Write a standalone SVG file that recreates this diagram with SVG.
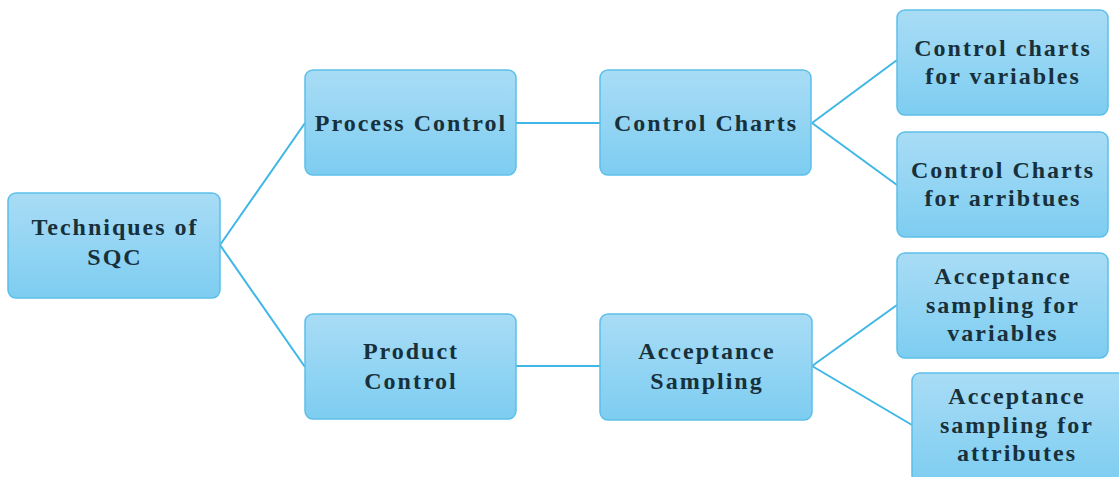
<svg xmlns="http://www.w3.org/2000/svg" width="1119" height="477" viewBox="0 0 1119 477">
<defs>
<linearGradient id="g" x1="0" y1="0" x2="0" y2="1">
<stop offset="0" stop-color="#a9dcf5"/>
<stop offset="1" stop-color="#7dcdf1"/>
</linearGradient>
<style>
.box{fill:url(#g);stroke:#5cbfe9;stroke-width:1.5}
.t{font-family:"Liberation Serif",serif;font-weight:bold;font-size:24px;fill:#17303b;text-anchor:middle;letter-spacing:2px}
.c{fill:none;stroke:#3fb7e6;stroke-width:2}
</style>
</defs>
<rect width="1119" height="477" fill="#ffffff"/>
<g id="connectors">
<path class="c" d="M220 245 L305 123 M220 245 L305 367"/>
<path class="c" d="M516 123 L600 123 M516 366 L600 366"/>
<path class="c" d="M812 123 L897 60 M812 123 L897 185"/>
<path class="c" d="M812 366 L897 305 M812 366 L912 425"/>
</g>
<g id="n-sqc"><rect class="box" x="8" y="193" width="212" height="105" rx="8"/><text class="t" x="115" y="235">Techniques of</text><text class="t" x="115" y="265">SQC</text></g>
<g id="n-process"><rect class="box" x="305" y="70" width="211" height="105" rx="8"/><text class="t" x="411" y="131">Process Control</text></g>
<g id="n-product"><rect class="box" x="305" y="314" width="211" height="105" rx="8"/><text class="t" x="411" y="359">Product</text><text class="t" x="411" y="389">Control</text></g>
<g id="n-charts"><rect class="box" x="600" y="70" width="211" height="105" rx="8"/><text class="t" x="706" y="131">Control Charts</text></g>
<g id="n-acceptance"><rect class="box" x="600" y="314" width="212" height="106" rx="8"/><text class="t" x="707" y="359">Acceptance</text><text class="t" x="707" y="389">Sampling</text></g>
<g id="n-ccvar"><rect class="box" x="897" y="10" width="211" height="105" rx="8"/><text class="t" x="1003" y="56">Control charts</text><text class="t" x="1003" y="84">for variables</text></g>
<g id="n-ccattr"><rect class="box" x="897" y="132" width="211" height="105" rx="8"/><text class="t" x="1003" y="178">Control Charts</text><text class="t" x="1003" y="206">for arribtues</text></g>
<g id="n-asvar"><rect class="box" x="897" y="253" width="211" height="105" rx="8"/><text class="t" x="1003" y="284">Acceptance</text><text class="t" x="1003" y="313">sampling for</text><text class="t" x="1003" y="341">variables</text></g>
<g id="n-asattr"><rect class="box" x="912" y="373" width="215" height="110" rx="8"/><text class="t" x="1017" y="404">Acceptance</text><text class="t" x="1017" y="433">sampling for</text><text class="t" x="1017" y="461">attributes</text></g>
</svg>
